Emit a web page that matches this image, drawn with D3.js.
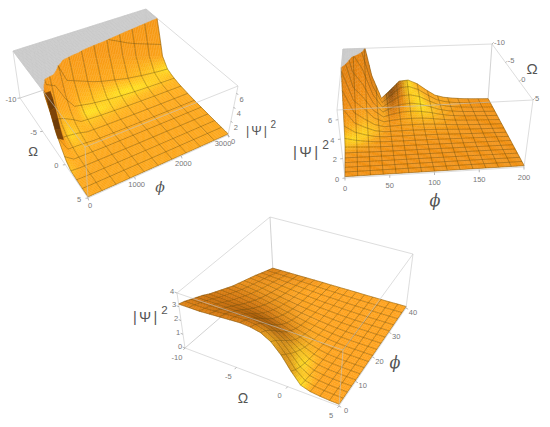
<!DOCTYPE html>
<html><head><meta charset="utf-8">
<style>html,body{margin:0;padding:0;background:#fff}svg{display:block}</style>
<script src="https://cdnjs.cloudflare.com/ajax/libs/d3/7.8.5/d3.min.js"></script>
</head><body><svg id="chart" width="550" height="427"></svg>
<script>
// ---------- data ----------
const meshOmega=[-10,-9.06,-8.12,-7.19,-6.25,-5.31,-4.38,-3.44,-2.5,-1.56,-0.62,0.31,1.25,2.19,3.12,4.06,5];
const meshPhiA=[0,187.5,375,562.5,750,937.5,1125,1312.5,1500,1687.5,1875,2062.5,2250,2437.5,2625,2812.5,3000];
const meshPhiB=[0,12.5,25,37.5,50,62.5,75,87.5,100,112.5,125,137.5,150,162.5,175,187.5,200];
const meshPhiC=[0,2.5,5,7.5,10,12.5,15,17.5,20,22.5,25,27.5,30,32.5,35,37.5,40];

const heightsA=[
[34,30,26,22,18,14,9.5,6.6,5,3,1.8,.8,.3,.22,.18,.16,.14],
[30,26,22,18,13,7.6,3.8,1.9,1,.6,.35,.25,.2,.18,.16,.15,.14],
[29,25,21,17,12,7,3.2,1.6,.9,.55,.33,.24,.2,.18,.16,.15,.14],
[28,24,19,13,7.4,4,2.2,1.2,.72,.46,.3,.22,.19,.18,.16,.15,.14],
[27,22,16,9,4.5,2.2,1.1,.62,.42,.3,.24,.2,.18,.17,.16,.15,.14],
[26,21,15,8,4,1.9,.95,.56,.38,.28,.22,.19,.18,.17,.16,.15,.14],
[25,20,14,7.6,3.5,1.6,.82,.5,.35,.26,.21,.19,.18,.17,.16,.15,.14],
[24,19,13,6.5,3,1.4,.75,.46,.33,.25,.2,.18,.17,.16,.16,.15,.14],
[24,18,12,6,2.6,1.2,.68,.43,.31,.24,.2,.18,.17,.16,.16,.15,.14],
[23,18,11.5,5.6,2.3,1.05,.62,.4,.3,.23,.2,.18,.17,.16,.15,.15,.14],
[23,17,10.5,5,2,.95,.57,.38,.28,.22,.19,.18,.17,.16,.15,.15,.14],
[22,16,9.8,4.4,1.7,.85,.52,.36,.27,.22,.19,.18,.17,.16,.15,.15,.14],
[22,15.5,9,3.8,1.5,.78,.49,.34,.26,.21,.19,.17,.16,.16,.15,.15,.14],
[21,15,8.4,3.3,1.3,.72,.46,.33,.25,.21,.18,.17,.16,.16,.15,.15,.14],
[21,14,7.8,2.9,1.15,.67,.44,.32,.25,.2,.18,.17,.16,.16,.15,.15,.14],
[20,13.5,7.2,2.5,1,.62,.42,.31,.24,.2,.18,.17,.16,.15,.15,.14,.14],
[20,13,6.6,2.1,.9,.58,.4,.3,.24,.2,.18,.17,.16,.15,.15,.14,.14]];

const heightsB=[
[14,13,12,11,9,6.6,4.8,3.1,1.7,.8,.35,.22,.18,.16,.15,.14,.14],
[12,10,7.4,5.6,4.2,3.1,2.2,1.5,.95,.55,.3,.2,.17,.16,.15,.14,.14],
[9,7,5.4,4,2.9,2.1,1.4,.95,.6,.38,.24,.18,.16,.15,.15,.14,.14],
[3.5,2.8,2.2,1.7,1.3,.95,.7,.5,.35,.27,.2,.17,.16,.15,.14,.14,.14],
[.6,.6,.6,.55,.5,.45,.4,.33,.27,.22,.18,.16,.15,.15,.14,.14,.14],
[1.6,1.5,1.3,1.05,.8,.6,.45,.35,.28,.22,.18,.16,.15,.15,.14,.14,.14],
[2.7,2.4,1.9,1.4,1,.7,.5,.37,.28,.22,.18,.16,.15,.15,.14,.14,.14],
[2.8,2.5,2,1.5,1.05,.72,.5,.37,.28,.22,.18,.16,.15,.15,.14,.14,.14],
[2.3,2.1,1.75,1.35,.98,.7,.5,.37,.28,.22,.18,.16,.15,.15,.14,.14,.14],
[1.5,1.4,1.2,1,.8,.6,.45,.34,.27,.21,.17,.16,.15,.15,.14,.14,.14],
[.8,.78,.72,.64,.55,.46,.38,.3,.25,.2,.17,.15,.15,.15,.14,.14,.14],
[.5,.48,.46,.42,.38,.34,.3,.26,.22,.19,.16,.15,.15,.15,.14,.14,.14],
[.36,.35,.33,.31,.29,.27,.25,.22,.2,.18,.16,.15,.15,.15,.14,.14,.14],
[.27,.27,.26,.25,.24,.23,.21,.2,.18,.17,.16,.15,.15,.14,.14,.14,.14],
[.22,.22,.22,.21,.21,.2,.19,.18,.17,.16,.15,.15,.15,.14,.14,.14,.14],
[.19,.19,.19,.19,.18,.18,.17,.17,.16,.16,.15,.15,.14,.14,.14,.14,.14],
[.17,.17,.17,.17,.17,.16,.16,.16,.15,.15,.15,.14,.14,.14,.14,.14,.14]];

const heightsC=[
[3.2,3.2,3.2,3.25,3.3,3.35,3.4,3.35,3.2,2.8,2.1,1.2,.45,.25,.18,.14,.12],
[3.05,3.05,3.05,3.1,3.15,3.2,3.22,3.15,2.95,2.5,1.75,.9,.38,.22,.16,.13,.12],
[2.85,2.85,2.85,2.88,2.92,2.95,2.95,2.85,2.6,2.1,1.4,.7,.32,.2,.15,.13,.12],
[2.65,2.65,2.65,2.65,2.65,2.65,2.6,2.45,2.15,1.7,1.1,.55,.28,.18,.14,.12,.12],
[2.45,2.42,2.4,2.38,2.35,2.3,2.2,2,1.7,1.3,.85,.45,.25,.17,.14,.12,.11],
[2.2,2.18,2.14,2.1,2.02,1.92,1.78,1.58,1.3,.98,.65,.38,.22,.16,.13,.12,.11],
[2,1.96,1.9,1.82,1.72,1.6,1.42,1.22,1,.75,.5,.32,.2,.15,.13,.12,.11],
[1.8,1.75,1.68,1.58,1.46,1.32,1.14,.95,.76,.58,.4,.27,.19,.15,.13,.12,.11],
[1.6,1.55,1.46,1.35,1.22,1.08,.92,.75,.6,.46,.33,.24,.18,.14,.13,.12,.11],
[1.4,1.35,1.26,1.14,1.02,.88,.74,.6,.48,.38,.29,.22,.17,.14,.13,.12,.11],
[1.25,1.18,1.08,.97,.85,.73,.6,.5,.41,.33,.26,.2,.16,.14,.13,.12,.11],
[1.1,1.03,.93,.82,.71,.6,.5,.42,.35,.29,.23,.19,.16,.14,.13,.12,.11],
[.95,.88,.79,.69,.59,.5,.43,.36,.3,.26,.21,.18,.15,.14,.13,.12,.11],
[.8,.74,.66,.58,.5,.43,.37,.32,.27,.24,.2,.17,.15,.14,.13,.12,.11],
[.62,.58,.52,.47,.42,.37,.33,.28,.25,.22,.19,.17,.15,.14,.13,.12,.11],
[.45,.43,.4,.37,.34,.31,.28,.25,.23,.2,.18,.16,.15,.14,.13,.12,.11],
[.28,.27,.26,.25,.24,.23,.22,.2,.19,.18,.17,.15,.14,.13,.12,.12,.11]];

// dark fold along the near edge of the first surface
const foldOmega=[-3.4,-3,-2.6,-2.2,-1.8,-1.3];
const foldLow=[7,6.2,5.2,4.2,3.3,2.5];
const foldHigh=[7,6.4,5.4,4.2,3,2];

const omegaTicks=[-10,-5,0,5];
const phiTicksA=[0,1000,2000,3000];
const phiTicksB=[0,50,100,150,200];
const phiTicksC=[0,10,20,30,40];
const zTicksAB=[0,2,4,6];
const zTicksC=[0,1,2,3,4];

// ---------- layout & style of each panel ----------
// corners: key = phiIdx omegaIdx zIdx (0 = low end of the domain, 1 = high end)
const panels=[
{phi:meshPhiA,h:heightsA,zMax:7,phiTicks:phiTicksA,zTicks:zTicksAB,sub:5,aspect:.5,cam:[-.6,1.7],phiCells:10,omegaCells:12,
 corners:{"000":[20,98],"010":[88,198],"100":[147,55],"110":[228,135],"001":[13,51],"011":[85,147],"101":[146,9],"111":[238,86]},
 hidden:["100"],
 omegaAxis:{at:[0,0],off:[-9,1],anchor:"middle"},phiAxis:{at:[1,0],off:[2,7],lastShift:[-7,1]},zAxis:{at:[1,1],off:[5,6]},
 light:[.25,.55,.8],ramp:[[0,"#5a3005"],[.55,"#ee860f"],[.85,"#ffa81a"]],high:[0,.6,.8],pow:16,amp:1,
 omegaTitle:[33,151,13],phiTitle:[160,187,14],psiTitle:[246,135,12.5]},
{phi:meshPhiB,h:heightsB,zMax:7,phiTicks:phiTicksB,zTicks:zTicksAB,sub:4,aspect:.5,cam:[.45,3],phiCells:14,omegaCells:16,
 corners:{"000":[346,104],"010":[345,178],"100":[488,100],"110":[524,167],"001":[343,49],"011":[337,110],"101":[492,44],"111":[533,100]},
 hidden:["000","100"],
 omegaAxis:{at:[1,1],off:[2,-2],anchor:"start"},phiAxis:{at:[1,0],off:[0,10]},zAxis:{at:[0,1],off:[-8,1]},
 light:[.45,.3,.8],ramp:[[0,"#4a2804"],[.35,"#9a5208"],[.8,"#f08a10"],[1.1,"#ffb020"]],high:[.25,.42,.85],pow:26,amp:1,
 omegaTitle:[532,69,15],phiTitle:[435,200,16],psiTitle:[293,157,15]},
{phi:meshPhiC,h:heightsC,zMax:4,phiTicks:phiTicksC,zTicks:zTicksC,sub:4,aspect:.45,cam:[-.5,1.7],phiCells:16,omegaCells:16,
 corners:{"000":[185,348],"010":[339,406],"100":[273,272],"110":[406,308],"001":[177,293],"011":[343,350],"101":[270,217],"111":[413,254]},
 hidden:["100"],
 omegaAxis:{at:[0,0],off:[-8,9]},phiAxis:{at:[1,0],off:[7,4]},zAxis:{at:[0,0],off:[-5,-2]},
 light:[-.62,.35,.8],ramp:[[0,"#6a3806"],[.5,"#d0720a"],[.72,"#ffa21c"]],high:[.1,.65,.75],pow:22,amp:.95,
 omegaTitle:[243,398,14],phiTitle:[395,362,16],psiTitle:[133,322,14.5]}
];

const COL={box:"#c6c6c6",tick:"#8a8a8a",label:"#777",title:"#555",mesh:"#5a4510",cap:"#c9c9c9",glow:"#ffe61e"};
const svg=d3.select("#chart");
const line=d3.line();

function norm(v){const n=Math.hypot(...v);return v.map(a=>a/n);}
function dot(a,b){return a[0]*b[0]+a[1]*b[1]+a[2]*b[2];}

function drawPanel(p,idx){
  const g=svg.append("g").attr("class","panel"+idx);
  const U=d3.scaleLinear().domain(d3.extent(p.phi)).range([0,1]);
  const V=d3.scaleLinear().domain(d3.extent(meshOmega)).range([0,1]);
  const W=d3.scaleLinear().domain([0,p.zMax]).range([0,1]);
  const mix=(a,b,t)=>a+(b-a)*t;
  const pt=(k)=>p.corners[k];
  function project(phi,om,h){
    const u=U(phi),v=V(om),w=W(h),out=[0,0];
    for(const c of [0,1]){
      const fl=mix(mix(pt("000")[c],pt("010")[c],v),mix(pt("100")[c],pt("110")[c],v),u);
      const tp=mix(mix(pt("001")[c],pt("011")[c],v),mix(pt("101")[c],pt("111")[c],v),u);
      out[c]=mix(fl,tp,w);
    }
    return out;
  }
  // box helpers
  const keyPoint=k=>project(U.domain()[+k[0]],V.domain()[+k[1]],+k[2]?p.zMax:0);
  const keys=Object.keys(p.corners);
  const edges=[];
  keys.forEach(a=>keys.forEach(b=>{
    if(a<b&&[0,1,2].filter(i=>a[i]!==b[i]).length===1)edges.push([a,b]);
  }));
  const isBack=e=>p.hidden.includes(e[0])||p.hidden.includes(e[1]);
  g.append("g").selectAll("path").data(edges.filter(isBack)).join("path")
    .attr("d",e=>line(e.map(keyPoint))).attr("fill","none").attr("stroke",COL.box).attr("stroke-width",.8);

  // vertex colours from surface orientation
  const nI=p.phi.length,nJ=meshOmega.length,du=1/(nI-1),dv=1/(nJ-1);
  const rampScale=d3.scaleLinear().domain(p.ramp.map(r=>r[0])).range(p.ramp.map(r=>r[1])).clamp(true).interpolate(d3.interpolateRgb);
  const L=norm(p.light),H=norm(p.high);
  const glow=d3.rgb(COL.glow);
  const vcol=p.h.map((row,i)=>row.map((_,j)=>{
    const a=p.h[Math.max(i-1,0)][j],b=p.h[Math.min(i+1,nI-1)][j];
    const c=p.h[i][Math.max(j-1,0)],d=p.h[i][Math.min(j+1,nJ-1)];
    const zu=(W(b)-W(a))/((Math.min(i+1,nI-1)-Math.max(i-1,0))*du)*p.aspect;
    const zv=(W(d)-W(c))/((Math.min(j+1,nJ-1)-Math.max(j-1,0))*dv)*p.aspect;
    const n=norm([-zu,-zv,1]);
    const base=d3.rgb(rampScale(dot(n,L)));
    const s=Math.min(1,p.amp*Math.pow(Math.max(0,dot(n,H)),p.pow));
    return [mix(base.r,glow.r,s),mix(base.g,glow.g,s),mix(base.b,glow.b,s)];
  }));

  // mesh line positions on the surface
  const phiLines=d3.range(p.phiCells+1).map(n=>U.invert(n/p.phiCells));
  const omegaLines=d3.range(p.omegaCells+1).map(n=>V.invert(n/p.omegaCells));

  // subdivided cells for smooth shading
  const items=[];
  const k=p.sub;
  const zAt=(i,j,a,b)=>{
    const i1=Math.min(i+1,nI-1),j1=Math.min(j+1,nJ-1);
    return mix(mix(p.h[i][j],p.h[i1][j],a),mix(p.h[i][j1],p.h[i1][j1],a),b);
  };
  const cut=(pts,keepLow)=>{
    const out=[];
    pts.forEach((q,n)=>{
      const r=pts[(n+1)%pts.length];
      const qi=keepLow?q[2]<=p.zMax:q[2]>=p.zMax, ri=keepLow?r[2]<=p.zMax:r[2]>=p.zMax;
      if(qi)out.push(q);
      if(qi!==ri){const t=(p.zMax-q[2])/(r[2]-q[2]);out.push([mix(q[0],r[0],t),mix(q[1],r[1],t),p.zMax]);}
    });
    return out;
  };
  const eps=1e-6;
  for(let i=0;i<nI-1;i++)for(let j=0;j<nJ-1;j++)for(let a=0;a<k;a++)for(let b=0;b<k;b++){
    const a0=a/k,a1=(a+1)/k,b0=b/k,b1=(b+1)/k;
    const ph=t=>mix(p.phi[i],p.phi[i+1],t),om=t=>mix(meshOmega[j],meshOmega[j+1],t);
    const q=[[ph(a0),om(b0),zAt(i,j,a0,b0)],[ph(a1),om(b0),zAt(i,j,a1,b0)],[ph(a1),om(b1),zAt(i,j,a1,b1)],[ph(a0),om(b1),zAt(i,j,a0,b1)]];
    const ac=(a+.5)/k,bc=(b+.5)/k;
    const col=[0,1,2].map(c=>mix(mix(vcol[i][j][c],vcol[i+1][j][c],ac),mix(vcol[i][j+1][c],vcol[i+1][j+1][c],ac),bc));
    const fill=d3.rgb(col[0],col[1],col[2]).formatHex();
    const pr=x=>project(x[0],x[1],Math.min(x[2],p.zMax));
    const u=U(ph(ac)),v=V(om(bc));
    const depth=Math.hypot(u-p.cam[0],v-p.cam[1]);
    const polys=[];
    const hi=q.filter(x=>x[2]>=p.zMax).length;
    if(hi===4)polys.push([q.map(pr),COL.cap]);
    else if(hi===0)polys.push([q.map(pr),fill]);
    else{polys.push([cut(q,false).map(pr),COL.cap]);polys.push([cut(q,true).map(pr),fill]);}
    const segs=[];
    const addSeg=(x,y)=>{
      if(x[2]>=p.zMax&&y[2]>=p.zMax)return;
      if(x[2]<=p.zMax&&y[2]<=p.zMax){segs.push([pr(x),pr(y)]);return;}
      const t=(p.zMax-x[2])/(y[2]-x[2]);
      const m=[mix(x[0],y[0],t),mix(x[1],y[1],t),p.zMax];
      segs.push(x[2]<p.zMax?[pr(x),pr(m)]:[pr(m),pr(y)]);
    };
    const lastA=(i===nI-2&&a===k-1),lastB=(j===nJ-2&&b===k-1);
    phiLines.forEach(f=>{
      const lo=ph(a0),hiP=ph(a1);
      if(f>=lo-eps&&(f<hiP-eps||(lastA&&f<=hiP+eps))){
        const t=(f-p.phi[i])/(p.phi[i+1]-p.phi[i]);
        addSeg([f,om(b0),zAt(i,j,t,b0)],[f,om(b1),zAt(i,j,t,b1)]);
      }
    });
    omegaLines.forEach(o=>{
      const lo=om(b0),hiO=om(b1);
      if(o>=lo-eps&&(o<hiO-eps||(lastB&&o<=hiO+eps))){
        const t=(o-meshOmega[j])/(meshOmega[j+1]-meshOmega[j]);
        addSeg([ph(a0),o,zAt(i,j,a0,t)],[ph(a1),o,zAt(i,j,a1,t)]);
      }
    });
    items.push({depth,polys,segs:[]});
    if(segs.length)items.push({depth:depth-1.1/(16*k),polys:[],segs});
  }
  items.sort((x,y)=>y.depth-x.depth);
  const surf=g.append("g");
  items.forEach(it=>{
    it.polys.forEach(([pts,f])=>surf.append("path").attr("d",line(pts)+"Z").attr("fill",f).attr("stroke",f).attr("stroke-width",.35));
    if(it.segs.length)surf.append("path").attr("d",it.segs.map(s=>line(s)).join("")).attr("fill","none")
      .attr("stroke",COL.mesh).attr("stroke-opacity",.6).attr("stroke-width",.65);
  });

  // fold on the first panel
  if(idx===0){
    const fold=g.append("g");
    for(let n=0;n<foldOmega.length-1;n++){
      const poly=[project(0,foldOmega[n],foldLow[n]),project(120,foldOmega[n],foldHigh[n]),project(120,foldOmega[n+1],foldHigh[n+1]),project(0,foldOmega[n+1],foldLow[n+1])];
      fold.append("path").attr("d",line(poly)+"Z").attr("fill",n%2?"#6e3c08":"#7e4509").attr("stroke","#6e3c08").attr("stroke-width",.3);
    }
  }

  // front box edges
  g.append("g").selectAll("path").data(edges.filter(e=>!isBack(e))).join("path")
    .attr("d",e=>line(e.map(keyPoint))).attr("fill","none").attr("stroke",COL.box).attr("stroke-width",.8).attr("stroke-opacity",.75);

  // axes: ticks and labels
  const axis=(vals,toPoint,spec)=>{
    const ag=g.append("g"),off=spec.off;
    const len=Math.hypot(off[0],off[1]);
    vals.forEach((val,n)=>{
      const P=toPoint(val);
      const sh=(spec.lastShift&&n===vals.length-1)?spec.lastShift:[0,0];
      ag.append("line").attr("x1",P[0]).attr("y1",P[1]).attr("x2",P[0]+off[0]/len*2.5).attr("y2",P[1]+off[1]/len*2.5)
        .attr("stroke",COL.tick).attr("stroke-width",.6);
      ag.append("text").attr("x",P[0]+off[0]+sh[0]).attr("y",P[1]+off[1]+sh[1]).attr("dy",".35em")
        .attr("text-anchor",spec.anchor||"middle").attr("font-family","'Liberation Sans',Arial,sans-serif")
        .attr("font-size",7.5).attr("fill",COL.label).text(String(val));
    });
  };
  const PD=U.domain(),OD=V.domain();
  axis(omegaTicks,o=>project(PD[p.omegaAxis.at[0]],o,p.omegaAxis.at[1]?p.zMax:0),p.omegaAxis);
  axis(p.phiTicks,f=>project(f,OD[p.phiAxis.at[0]],p.phiAxis.at[1]?p.zMax:0),p.phiAxis);
  axis(p.zTicks,z=>project(PD[p.zAxis.at[0]],OD[p.zAxis.at[1]],z),p.zAxis);

  // titles
  const font="'Liberation Sans',Arial,sans-serif";
  g.append("text").attr("x",p.omegaTitle[0]).attr("y",p.omegaTitle[1]).attr("dy",".35em").attr("text-anchor","middle")
    .attr("font-family",font).attr("font-size",p.omegaTitle[2]).attr("fill",COL.title).text("\u03A9");
  g.append("text").attr("x",p.phiTitle[0]).attr("y",p.phiTitle[1]).attr("dy",".35em").attr("text-anchor","middle")
    .attr("font-family","'DejaVu Serif',serif").attr("font-style","italic").attr("font-size",p.phiTitle[2]).attr("fill",COL.title).text("\u03D5");
  const psi=g.append("text").attr("x",p.psiTitle[0]).attr("y",p.psiTitle[1]).attr("font-family",font)
    .attr("font-size",p.psiTitle[2]).attr("fill",COL.title).attr("letter-spacing",p.psiTitle[2]*.16).text("|\u03A8|");
  psi.append("tspan").attr("dx",p.psiTitle[2]*.12).attr("dy",-p.psiTitle[2]*.55).attr("font-size",p.psiTitle[2]*.8).text("2");
}
panels.forEach(drawPanel);
</script></body></html>
